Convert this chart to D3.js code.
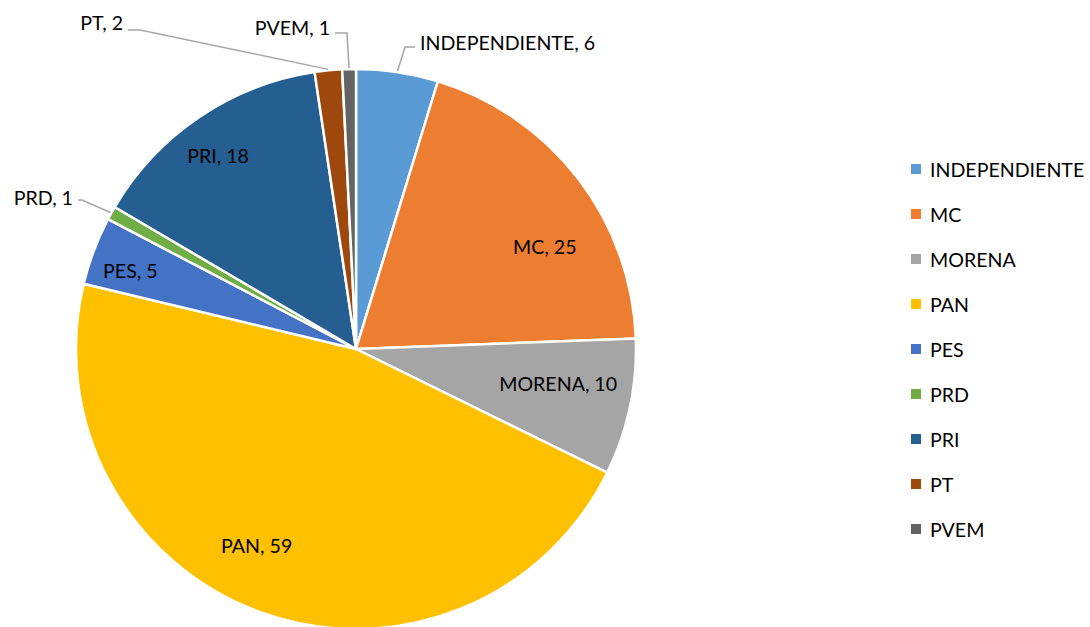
<!DOCTYPE html>
<html><head><meta charset="utf-8">
<script src="https://cdn.jsdelivr.net/npm/d3@7"></script>
<style>body{margin:0;background:#fff}svg{display:block}text{font-family:Lato,"Open Sans",sans-serif;fill:#000}</style>
</head><body><svg id="c" width="1090" height="627"></svg>
<script>
const categories = ["INDEPENDIENTE","MC","MORENA","PAN","PES","PRD","PRI","PT","PVEM"];
const values = [6,25,10,59,5,1,18,2,1];
const colors = ["#5B9BD5","#ED7D31","#A5A5A5","#FFC000","#4472C4","#70AD47","#255E91","#9E480E","#636363"];

// layout (label placement) kept separate from data
const cx = 356, cy = 349, R = 280;
const inside = {1:{da:9,r:215},2:{da:-2.5,r:205},3:{da:7,r:220},4:{da:-1.3,r:239},6:{da:-1.4,r:238}};
const outside = {
  0:{elbow:[405,47], end:[415,47], text:[420,42], anchor:"start"},
  7:{elbow:[140,30], end:[128,30], text:[123,22], anchor:"end"},
  8:{elbow:[347,33], end:[335,33], text:[330,27], anchor:"end"},
  5:{elbow:[82,200], end:[78,200], text:[73,197], anchor:"end"}
};

const svg = d3.select("#c");
const g = svg.append("g").attr("transform",`translate(${cx},${cy})`);
const pie = d3.pie().sort(null).value(d=>d.v);
const data = pie(categories.map((c,i)=>({c,v:values[i],i})));
const arc = d3.arc().innerRadius(0).outerRadius(R);
const color = d3.scaleOrdinal().domain(categories).range(colors);

g.selectAll("path.s").data(data).join("path").attr("class","s")
  .attr("d",arc).attr("fill",d=>color(d.data.c)).attr("stroke","#fff").attr("stroke-width",2.5).attr("stroke-linejoin","round");

const fs = 19.6;
data.forEach(d=>{
  const i = d.data.i, label = `${d.data.c}, ${d.data.v}`;
  const mid = (d.startAngle+d.endAngle)/2;
  if (inside[i]) {
    const a = mid + inside[i].da*Math.PI/180, r = inside[i].r;
    g.append("text").attr("x",r*Math.sin(a)).attr("y",-r*Math.cos(a)).attr("text-anchor","middle")
      .attr("dominant-baseline","central").attr("font-size",fs).text(label);
  } else {
    const o = outside[i];
    const p = [ (R+1)*Math.sin(mid), -(R+1)*Math.cos(mid) ];
    g.append("polyline").attr("points",[p,[o.elbow[0]-cx,o.elbow[1]-cy],[o.end[0]-cx,o.end[1]-cy]].map(q=>q.join(",")).join(" "))
      .attr("fill","none").attr("stroke","#A6A6A6").attr("stroke-width",1.5);
    g.append("text").attr("x",o.text[0]-cx).attr("y",o.text[1]-cy).attr("text-anchor",o.anchor)
      .attr("dominant-baseline","central").attr("font-size",fs).text(label);
  }
});

const leg = svg.append("g").attr("transform","translate(911,169)");
const row = leg.selectAll("g").data(categories).join("g").attr("transform",(d,i)=>`translate(0,${i*45})`);
row.append("rect").attr("x",0).attr("y",-5).attr("width",10).attr("height",10).attr("fill",d=>color(d));
row.append("text").attr("x",19).attr("y",0).attr("dominant-baseline","central").attr("font-size",fs).text(d=>d);
</script></body></html>
